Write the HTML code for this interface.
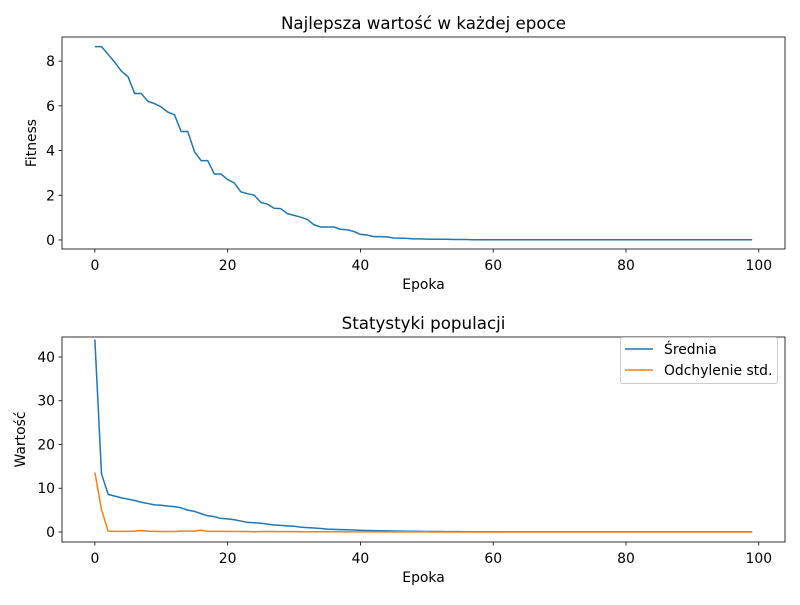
<!DOCTYPE html>
<html><head><meta charset="utf-8"><style>
body{margin:0;background:#fff;font-family:"Liberation Sans","DejaVu Sans",sans-serif}
svg text{font-family:"DejaVu Sans","Liberation Sans",sans-serif;fill:#000}
</style></head><body>
<svg id="s" width="800" height="600" xmlns="http://www.w3.org/2000/svg"></svg>
<script>
const epochs = Array.from({length:100},(_,i)=>i);
const bestFitness = [8.65,8.65,8.3,7.95,7.55,7.3,6.55,6.55,6.2,6.1,5.95,5.72,5.6,4.85,4.85,3.95,3.55,3.55,2.95,2.95,2.7,2.55,2.15,2.07,2.0,1.68,1.6,1.42,1.4,1.18,1.1,1.02,0.92,0.68,0.58,0.58,0.58,0.48,0.46,0.38,0.25,0.22,0.15,0.15,0.14,0.09,0.08,0.07,0.05,0.05,0.04,0.03,0.03,0.03,0.02,0.02,0.02,0.01,0.01,0.01,0.01,0.01,0.01,0.01,0.01,0.01,0.01,0.01,0.01,0.01,0.01,0.01,0.01,0.01,0.01,0.01,0.01,0.01,0.01,0.01,0.01,0.01,0.01,0.01,0.01,0.01,0.01,0.01,0.01,0.01,0.01,0.01,0.01,0.01,0.01,0.01,0.01,0.01,0.01,0.01];
const meanValues = [44,13.3,8.6,8.2,7.8,7.5,7.2,6.8,6.5,6.2,6.1,5.9,5.8,5.5,5.0,4.7,4.2,3.7,3.5,3.1,3.0,2.8,2.5,2.2,2.1,2.0,1.8,1.6,1.5,1.4,1.3,1.1,1.0,0.9,0.8,0.65,0.6,0.55,0.5,0.45,0.38,0.33,0.3,0.27,0.25,0.22,0.2,0.18,0.16,0.14,0.12,0.11,0.1,0.09,0.08,0.07,0.06,0.05,0.05,0.04,0.04,0.03,0.03,0.03,0.03,0.02,0.02,0.02,0.02,0.02,0.02,0.02,0.02,0.02,0.02,0.02,0.02,0.02,0.02,0.02,0.02,0.02,0.02,0.02,0.02,0.02,0.02,0.02,0.02,0.02,0.02,0.02,0.02,0.02,0.02,0.02,0.02,0.02,0.02,0.02];
const stdValues = [13.6,5.1,0.2,0.15,0.15,0.15,0.2,0.3,0.2,0.15,0.1,0.1,0.1,0.2,0.2,0.2,0.4,0.15,0.15,0.15,0.15,0.1,0.1,0.1,0.05,0.1,0.1,0.1,0.08,0.08,0.08,0.05,0.05,0.05,0.05,0.05,0.04,0.04,0.03,0.03,0.03,0.03,0.03,0.02,0.02,0.02,0.02,0.02,0.02,0.02,0.02,0.01,0.01,0.01,0.01,0.01,0.01,0.01,0.01,0.01,0.01,0.01,0.01,0.01,0.01,0.01,0.01,0.01,0.01,0.01,0.01,0.01,0.01,0.01,0.01,0.01,0.01,0.01,0.01,0.01,0.01,0.01,0.01,0.01,0.01,0.01,0.01,0.01,0.01,0.01,0.01,0.01,0.01,0.01,0.01,0.01,0.01,0.01,0.01,0.01];
const xTicks = [0,20,40,60,80,100];
const topYTicks = [0,2,4,6,8];
const bottomYTicks = [0,10,20,30,40];

const NS="http://www.w3.org/2000/svg", svg=document.getElementById('s');
function mk(t,a,p){const e=document.createElementNS(NS,t);for(const k in a)e.setAttribute(k,a[k]);(p||svg).appendChild(e);return e;}
function axes(o){
  const g=mk('g',{});
  
  
  const X=v=>o.x0+(v-o.xmin)/(o.xmax-o.xmin)*(o.x1-o.x0);
  const Y=v=>o.y1-(v-o.ymin)/(o.ymax-o.ymin)*(o.y1-o.y0);
  o.series.forEach(s=>{
    const p=mk('polyline',{points:s.vals.map((v,i)=>X(epochs[i]).toFixed(2)+','+Y(v).toFixed(2)).join(' '),fill:'none',stroke:s.color,'stroke-width':1.5,'stroke-linejoin':'round'},g);
    
    
  });
  const r=mk('rect',{x:o.x0,y:o.y0,width:o.x1-o.x0,height:o.y1-o.y0,fill:'none',stroke:'#000','stroke-width':0.8},g);
  
  
  xTicks.forEach(v=>{const x=X(v);mk('line',{x1:x,x2:x,y1:o.y1,y2:o.y1+3.5,stroke:'#000','stroke-width':0.8},g);
    const t=mk('text',{x:x,y:o.y1+21,'text-anchor':'middle','font-size':13.9},g);t.textContent=v;
    
    });
  o.yticks.forEach(v=>{const y=Y(v);mk('line',{x1:o.x0-3.5,x2:o.x0,y1:y,y2:y,stroke:'#000','stroke-width':0.8},g);
    const t=mk('text',{x:o.x0-7,y:y+5,'text-anchor':'end','font-size':13.9},g);t.textContent=v;
    
    });
  const ti=mk('text',{x:(o.x0+o.x1)/2,y:o.y0-8,'text-anchor':'middle','font-size':16.7},g);ti.textContent=o.title;
  
  
  const xl=mk('text',{x:(o.x0+o.x1)/2,y:o.y1+40,'text-anchor':'middle','font-size':13.9},g);xl.textContent='Epoka';
  
  
  const yc=(o.y0+o.y1)/2;
  const yl=mk('text',{x:o.ylx,y:yc,'text-anchor':'middle','font-size':13.9,transform:`rotate(-90 ${o.ylx} ${yc})`},g);yl.textContent=o.ylabel;
  
  
}
axes({name:'best-fitness-chart',x0:62,x1:785,y0:37,y1:249,xmin:-4.95,xmax:103.95,ymin:-0.404,ymax:9.08,yticks:topYTicks,title:'Najlepsza wartość w każdej epoce',ylabel:'Fitness',ylx:36,
  series:[{name:'best-fitness-line',vals:bestFitness,color:'#1f77b4'}]});
axes({name:'population-stats-chart',x0:62,x1:785,y0:337,y1:542,xmin:-4.95,xmax:103.95,ymin:-2.29,ymax:44.57,yticks:bottomYTicks,title:'Statystyki populacji',ylabel:'Wartość',ylx:25,
  series:[{name:'mean-line',vals:meanValues,color:'#1f77b4'},{name:'std-line',vals:stdValues,color:'#ff7f0e'}]});
const lg=mk('g',{});


mk('rect',{x:620.5,y:337.5,width:157,height:46,rx:2,fill:'#fff',stroke:'#ccc'},lg);
[['Średnia','#1f77b4',349],['Odchylenie std.','#ff7f0e',370]].forEach(([n,c,y])=>{
  const e=mk('g',{},lg);
  
  
  mk('line',{x1:625,x2:653,y1:y,y2:y,stroke:c,'stroke-width':1.5},e);
  const t=mk('text',{x:664,y:y+5,'font-size':13.9},e);t.textContent=n;
});
</script>
</body></html>
